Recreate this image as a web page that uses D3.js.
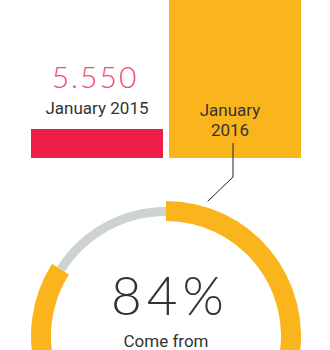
<!DOCTYPE html>
<html lang="en">
    <head>
        <meta charset="utf-8">
        <title>Jobs chart</title>
        <script type="text/javascript" src="https://d3js.org/d3.v7.min.js"></script>
        <style type="text/css">
          body {
            margin: 0;
            background: #fff;
          }
          .label {
            font-family: Roboto, sans-serif;
            font-size: 17px;
            fill: #333;
          }
          .big {
            font-family: Lato, sans-serif;
            font-weight: 300;
          }
        </style>
    </head>
    <body>
        <script type="text/javascript">
          // chart data
          var periods = ["January 2015", "January 2016"];
          var values = [5550, 34000];
          var valueLabels = ["5.550", ""];
          var shareParts = [84, 16];
          var shareLabel = "84%";
          var shareText = "Come from";

          var barColors = ["#ee1e4a", "#fbb51c"];
          var ringColors = ["#fbb51c", "#cdd2d4"];

          var w = 330;
          var h = 350;
          var baseline = 158;

          var svg = d3.select("body").append("svg")
                      .attr("width", w)
                      .attr("height", h);

          // bar scales
          var xScale = d3.scaleBand()
                         .domain(periods)
                         .range([31, 301])
                         .paddingInner(0.0435);
          var yScale = d3.scaleLinear()
                         .domain([0, 5550])
                         .range([baseline, baseline - 29]);

          svg.selectAll("rect.bar")
             .data(values)
             .enter()
             .append("rect")
             .attr("class", "bar")
             .attr("x", function(d, i) { return xScale(periods[i]); })
             .attr("y", function(d) { return yScale(d); })
             .attr("width", xScale.bandwidth())
             .attr("height", function(d) { return baseline - yScale(d); })
             .attr("fill", function(d, i) { return barColors[i]; });

          // label above the first bar
          var c0 = xScale(periods[0]) + xScale.bandwidth() / 2;
          svg.append("text")
             .attr("class", "big")
             .attr("x", c0 - 2)
             .attr("y", 88)
             .attr("text-anchor", "middle")
             .attr("font-size", 30)
             .attr("letter-spacing", 2)
             .attr("fill", "#ef4a6c")
             .text(valueLabels[0]);
          svg.append("text")
             .attr("class", "label")
             .attr("x", c0)
             .attr("y", 114)
             .attr("text-anchor", "middle")
             .text(periods[0]);

          // label inside the second bar, on two lines
          var c1 = xScale(periods[1]) + xScale.bandwidth() / 2;
          var parts = periods[1].split(" ");
          svg.append("text")
             .attr("class", "label")
             .attr("text-anchor", "middle")
             .selectAll("tspan")
             .data(parts)
             .enter()
             .append("tspan")
             .attr("x", c1 - 5)
             .attr("y", function(d, i) { return 116 + i * 20; })
             .text(function(d) { return d; });

          // ring
          var cx = 166, cy = 336;
          var pie = d3.pie().sort(null).value(function(d) { return d; });
          var arcs = pie(shareParts);
          var ring = svg.append("g").attr("transform", "translate(" + cx + "," + cy + ")");
          var outerArc = d3.arc().innerRadius(115).outerRadius(135);
          var innerArc = d3.arc().innerRadius(120).outerRadius(129);

          ring.selectAll("path")
              .data(arcs)
              .enter()
              .append("path")
              .attr("d", function(d, i) { return i === 0 ? outerArc(d) : innerArc(d); })
              .attr("fill", function(d, i) { return ringColors[i]; });

          // leader from the bar label to the ring
          var a = 0.3, r = 141;
          var lx = c1 - 2;
          var leader = [
            [lx, baseline - 15],
            [lx, baseline + 19],
            [cx + r * Math.sin(a), cy - r * Math.cos(a)]
          ];
          svg.append("path")
             .attr("d", d3.line()(leader))
             .attr("fill", "none")
             .attr("stroke", "#222")
             .attr("stroke-width", 1);

          // centre text
          ring.append("text")
              .attr("class", "big")
              .attr("x", 4)
              .attr("y", -21)
              .attr("text-anchor", "middle")
              .attr("font-size", 53)
              .attr("letter-spacing", 5)
              .attr("fill", "#333")
              .text(shareLabel);
          ring.append("text")
              .attr("class", "label")
              .attr("y", 11)
              .attr("text-anchor", "middle")
              .attr("fill", "#111")
              .text(shareText);
        </script>
    </body>
</html>
